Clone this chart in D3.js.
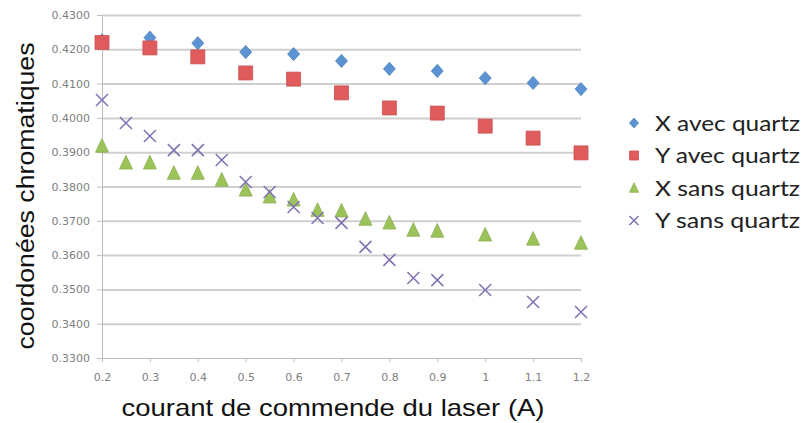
<!DOCTYPE html>
<html lang="fr">
<head>
<meta charset="UTF-8">
<title>Coordonnées chromatiques</title>
<script src="https://d3js.org/d3.v7.min.js"></script>
<style>
  body { margin: 0; background: #fff; }
  .grid line { stroke: #cfcfcf; stroke-width: 2; }
  .grid path { display: none; }
  .axis path, .axis line { stroke: #bdbdbd; }
  .axis text { font: 11px "DejaVu Sans", sans-serif; fill: #808080; }
</style>
</head>
<body>
<script>
// data
var courantAvec = [0.2, 0.3, 0.4, 0.5, 0.6, 0.7, 0.8, 0.9, 1.0, 1.1, 1.2];
var xAvec = [0.4226, 0.4234, 0.4218, 0.4192, 0.4186, 0.4166, 0.4143, 0.4137, 0.4116, 0.4102, 0.4084];
var yAvec = [0.4220, 0.4204, 0.4178, 0.4131, 0.4113, 0.4073, 0.4029, 0.4014, 0.3976, 0.3941, 0.3898];

var courantSans = [0.2, 0.25, 0.3, 0.35, 0.4, 0.45, 0.5, 0.55, 0.6, 0.65, 0.7, 0.75, 0.8, 0.85, 0.9, 1.0, 1.1, 1.2];
var xSans = [0.3918, 0.3869, 0.3869, 0.3839, 0.3839, 0.3819, 0.3790, 0.3770, 0.3761, 0.3731, 0.3729, 0.3705, 0.3694, 0.3673, 0.3670, 0.3659, 0.3647, 0.3635];
var ySans = [0.4052, 0.3985, 0.3947, 0.3906, 0.3906, 0.3877, 0.3813, 0.3784, 0.3740, 0.3708, 0.3694, 0.3624, 0.3586, 0.3533, 0.3527, 0.3498, 0.3463, 0.3434];

var xTicks = [0.2, 0.3, 0.4, 0.5, 0.6, 0.7, 0.8, 0.9, 1, 1.1, 1.2];
var yTicks = [0.33, 0.34, 0.35, 0.36, 0.37, 0.38, 0.39, 0.40, 0.41, 0.42, 0.43];

var series = [
  { name: "X avec quartz", xs: courantAvec, ys: xAvec, shape: "diamond", color: "#5b93d3" },
  { name: "Y avec quartz", xs: courantAvec, ys: yAvec, shape: "square", color: "#e05b5b" },
  { name: "X sans quartz", xs: courantSans, ys: xSans, shape: "triangle", color: "#9bc35a" },
  { name: "Y sans quartz", xs: courantSans, ys: ySans, shape: "cross", color: "#8070b4" }
];

var W = 803, H = 423;
var margin = { top: 15, right: 222, bottom: 65, left: 102 };
var w = W - margin.left - margin.right,
    h = H - margin.top - margin.bottom;

var svg = d3.select("body").append("svg")
  .attr("width", W).attr("height", H);
var g = svg.append("g")
  .attr("transform", "translate(" + margin.left + "," + margin.top + ")");

var x = d3.scaleLinear().domain([0.2, 1.2]).range([0, w]);
var y = d3.scaleLinear().domain([0.33, 0.43]).range([h, 0]);

g.append("g").attr("class", "grid")
  .call(d3.axisLeft(y).tickValues(yTicks.slice(1)).tickSize(-w).tickFormat(""));

g.append("g").attr("class", "axis")
  .call(d3.axisLeft(y).tickValues(yTicks).tickSize(5).tickPadding(7)
    .tickFormat(function(d) { return d3.format(".4f")(d); }));

g.append("g").attr("class", "axis")
  .attr("transform", "translate(0," + h + ")")
  .call(d3.axisBottom(x).tickValues(xTicks).tickSize(4).tickPadding(11)
    .tickFormat(function(d) { return d3.format("")(+d.toFixed(1)); }));

// markers drawn around (0,0), size = full width in px
function marker(sel, s, size) {
  var r = size / 2, p;
  if (s.shape === "cross") {
    sel.append("path")
      .attr("d", "M" + (-r) + "," + (-r) + "L" + r + "," + r + "M" + (-r) + "," + r + "L" + r + "," + (-r))
      .attr("stroke", s.color).attr("stroke-width", 1.5).attr("fill", "none");
    return;
  }
  if (s.shape === "diamond") {
    var t = r * 1.1;
    p = "M0," + (-t) + "L" + r + ",0L0," + t + "L" + (-r) + ",0Z";
  }
  if (s.shape === "square") p = "M" + (-r) + "," + (-r) + "h" + size + "v" + size + "h" + (-size) + "Z";
  if (s.shape === "triangle") p = "M0," + (-r * 1.15) + "L" + r + "," + (r * 0.95) + "L" + (-r) + "," + (r * 0.95) + "Z";
  sel.append("path").attr("d", p)
    .attr("fill", s.color)
    .attr("stroke", d3.color(s.color).darker(0.3))
    .attr("stroke-width", 0.8)
    .attr("stroke-linejoin", "round");
}

var sizes = { diamond: 12, square: 14, triangle: 13, cross: 12 };

series.forEach(function(s) {
  var pts = s.xs.map(function(v, i) { return [v, s.ys[i]]; });
  g.append("g").selectAll("g")
    .data(pts).enter().append("g")
    .attr("transform", function(d) { return "translate(" + x(d[0]) + "," + y(d[1]) + ")"; })
    .each(function() { marker(d3.select(this), s, sizes[s.shape]); });
});

// legend
var legend = svg.append("g").attr("transform", "translate(634,123)");
series.forEach(function(s, i) {
  var row = legend.append("g").attr("transform", "translate(0," + (i * 32.5) + ")");
  marker(row, s, 9);
  row.append("text")
    .attr("x", 21).attr("y", 0).attr("dy", "0.35em")
    .attr("textLength", 145).attr("lengthAdjust", "spacingAndGlyphs")
    .style("font", "22px Lato, sans-serif").style("fill", "#222")
    .text(s.name);
});

// axis titles
svg.append("text")
  .attr("x", 333).attr("y", 416)
  .attr("text-anchor", "middle")
  .attr("textLength", 423).attr("lengthAdjust", "spacingAndGlyphs")
  .style("font", "24px 'Liberation Sans', Arial, sans-serif").style("fill", "#111")
  .text("courant de commende du laser (A)");

svg.append("text")
  .attr("transform", "translate(34,196) rotate(-90)")
  .attr("text-anchor", "middle")
  .attr("textLength", 307).attr("lengthAdjust", "spacingAndGlyphs")
  .style("font", "23px 'Liberation Sans', Arial, sans-serif").style("fill", "#111")
  .text("coordonées chromatiques");
</script>
</body>
</html>
